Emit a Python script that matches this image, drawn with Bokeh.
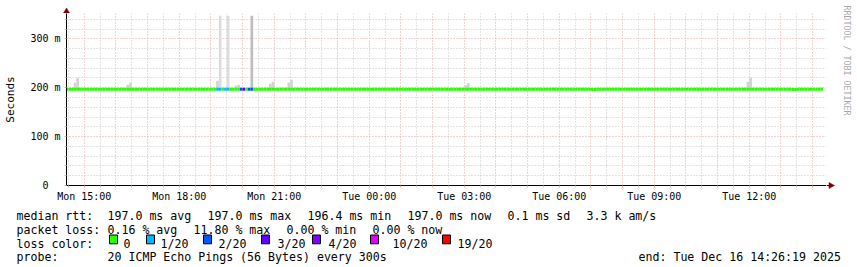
import math
from datetime import datetime, timedelta
from bokeh.plotting import figure
from bokeh.models import Range1d, FixedTicker, CustomJSTickFormatter
from bokeh.layouts import column, row
from bokeh.embed import file_html
from bokeh.resources import INLINE
from bokeh.core.properties import value

# ---------------- data ----------------
graph_start = "2025-12-15 14:26:19"
graph_end = "2025-12-16 14:26:19"
first_bin_end = "2025-12-15 14:30"
last_bin_end = "2025-12-16 14:20"
step_minutes = 5

median_base_ms = 197.0
median_times = ["2025-12-16 07:05", "2025-12-16 07:10", "2025-12-16 13:25", "2025-12-16 13:30"]
median_values_ms = [196.4, 196.4, 196.5, 196.5]

loss_times = ["2025-12-15 19:15", "2025-12-15 19:20", "2025-12-15 19:30", "2025-12-15 19:35",
              "2025-12-15 20:00", "2025-12-15 20:05", "2025-12-15 20:15", "2025-12-15 20:20"]
loss_counts = [1, 1, 1, 1, 2, 3, 2, 2]

smoke_times = ["2025-12-15 14:45", "2025-12-15 14:50", "2025-12-15 16:25", "2025-12-15 16:30",
               "2025-12-15 19:15", "2025-12-15 19:50", "2025-12-15 19:55", "2025-12-15 20:55",
               "2025-12-15 21:00", "2025-12-15 21:30", "2025-12-15 21:35", "2025-12-16 03:05",
               "2025-12-16 03:10", "2025-12-16 12:00", "2025-12-16 12:05"]
smoke_top_ms = [210, 220, 206, 210, 214, 204, 206, 208, 212, 210, 216, 205, 209, 212, 220]

spike_times = ["2025-12-15 19:20", "2025-12-15 19:35", "2025-12-15 20:20"]
spike_top_ms = [347, 347, 347]
spike_pings = [1, 1, 3]

loss_levels = [0, 1, 2, 3, 4, 10, 19]
loss_labels = ["0", "1/20", "2/20", "3/20", "4/20", "10/20", "19/20"]
loss_colors = ["#26ff00", "#00b8ff", "#0059ff", "#5e00ff", "#7e00ff", "#dd00ff", "#ff0000"]

y_major_ms = [0, 100, 200, 300]
y_minor_ms = [20, 40, 60, 80, 120, 140, 160, 180, 220, 240, 260, 280, 320, 340]

stats_rtt = ["median rtt:", "197.0 ms avg", "197.0 ms max", "196.4 ms min", "197.0 ms now",
             "0.1 ms sd", "3.3 k am/s"]
stats_loss = ["packet loss:", "0.16 % avg", "11.80 % max", "0.00 % min", "0.00 % now"]
probe_text = ["probe:", "20 ICMP Echo Pings (56 Bytes) every 300s"]
end_text = "end: Tue Dec 16 14:26:19 2025"
watermark = "RRDTOOL / TOBI OETIKER"

# ---------------- helpers ----------------
FMT = "%Y-%m-%d %H:%M"
EPOCH = datetime(1970, 1, 1)


def ts(s):
    return datetime.strptime(s, FMT)


def ms(dt):
    return (dt - EPOCH).total_seconds() * 1000.0


def loss_color(c):
    col = loss_colors[0]
    for lvl, cc in zip(loss_levels, loss_colors):
        if c >= lvl:
            col = cc
    return col


t0 = datetime.strptime(graph_start, "%Y-%m-%d %H:%M:%S")
t1 = datetime.strptime(graph_end, "%Y-%m-%d %H:%M:%S")
step = timedelta(minutes=step_minutes)

bin_ends = []
t = ts(first_bin_end)
while t <= ts(last_bin_end):
    bin_ends.append(t)
    t += step

med_map = dict(zip(median_times, median_values_ms))
loss_map = dict(zip(loss_times, loss_counts))

m_left, m_right, m_val, m_col = [], [], [], []
for t in bin_ends:
    k = t.strftime(FMT)
    m_left.append(t - step)
    m_right.append(t)
    m_val.append(med_map.get(k, median_base_ms) / 1000.0)
    m_col.append(loss_color(loss_map.get(k, 0)))


def med_at(k):
    return med_map.get(k, median_base_ms) / 1000.0


GRID_MAJOR = "#e8a4a4"
GRID_MINOR = "#c8c8c8"
FONT = "DejaVu Sans Mono"
ARROW = "#800000"


def strip(w, h):
    f = figure(width=w, height=h, x_range=Range1d(0, w), y_range=Range1d(h, 0),
               min_border=0, toolbar_location=None, output_backend="svg",
               outline_line_color=None, x_axis_location=None, y_axis_location=None,
               background_fill_color="white", border_fill_color="white")
    f.grid.visible = False
    return f


# ---------------- main graph ----------------
p = figure(width=826, height=192, x_axis_type="datetime",
           x_range=Range1d(ms(t0), ms(t1)), y_range=Range1d(0, 0.3517),
           min_border_left=66, min_border_right=0, min_border_top=0, min_border_bottom=20,
           toolbar_location=None, output_backend="svg", outline_line_color=None,
           background_fill_color="white", border_fill_color="white")

hours = []
h = datetime(t0.year, t0.month, t0.day, t0.hour) + timedelta(hours=1)
while h <= t1:
    hours.append(h)
    h += timedelta(hours=1)
halfs = [hh - timedelta(minutes=30) for hh in hours]
halfs = [x for x in halfs if t0 <= x <= t1]

p.xaxis.ticker = FixedTicker(ticks=[ms(x) for x in hours], minor_ticks=[ms(x) for x in halfs])
p.xaxis.formatter = CustomJSTickFormatter(code="""
const d = new Date(tick);
const h = d.getUTCHours();
if (h % 3 !== 0) return "";
const days = ["Sun","Mon","Tue","Wed","Thu","Fri","Sat"];
return days[d.getUTCDay()] + " " + String(h).padStart(2, "0") + ":00";
""")
p.yaxis.ticker = FixedTicker(ticks=[v / 1000 for v in y_major_ms], minor_ticks=[v / 1000 for v in y_minor_ms])
p.yaxis.formatter = CustomJSTickFormatter(code="""
if (Math.abs(tick) < 1e-9) return "0\\u00a0\\u00a0";
return Math.round(tick * 1000) + " m";
""")

for g in (p.xgrid, p.ygrid):
    g.grid_line_color = GRID_MAJOR
    g.grid_line_dash = "1 2"
    g.grid_line_width = 1
    g.minor_grid_line_color = GRID_MINOR
    g.minor_grid_line_dash = "1 2"
    g.minor_grid_line_width = 1

for ax in (p.xaxis, p.yaxis):
    ax.axis_line_color = "#000000"
    ax.axis_line_width = 1
    ax.major_tick_in = 0
    ax.major_tick_out = 2
    ax.minor_tick_in = 0
    ax.minor_tick_out = 2
    ax.major_tick_line_color = GRID_MAJOR
    ax.minor_tick_line_color = GRID_MINOR
    ax.major_label_text_font = FONT
    ax.major_label_text_font_size = "10px"
    ax.major_label_text_color = "#000000"
    ax.major_label_standoff = 3

p.yaxis.major_label_standoff = 4
p.yaxis.axis_label = "Seconds"
p.yaxis.axis_label_text_font = FONT
p.yaxis.axis_label_text_font_size = "11px"
p.yaxis.axis_label_text_font_style = "normal"
p.yaxis.axis_label_text_color = "#000000"
p.yaxis.axis_label_standoff = 10

# smoke: outlier pings
sp_col = ["#dcdcdc" if n == 1 else "#bdbdbd" for n in spike_pings]
p.quad(left=[ts(k) - step for k in spike_times], right=[ts(k) for k in spike_times],
       bottom=[med_at(k) for k in spike_times], top=[v / 1000 for v in spike_top_ms],
       fill_color=sp_col, line_color=None)
# smoke: bulk of pings
p.quad(left=[ts(k) - step for k in smoke_times], right=[ts(k) for k in smoke_times],
       bottom=[med_at(k) for k in smoke_times], top=[v / 1000 for v in smoke_top_ms],
       fill_color="#d2d2d2", line_color=None)

# median rtt coloured by loss
p.segment(x0=m_left, y0=m_val, x1=m_right, y1=m_val, line_color=m_col, line_width=3)

# ---------------- strip above the graph (y-axis arrow) ----------------
top = strip(826, 13)
top.segment(x0=[66], y0=[13], x1=[66], y1=[10], line_color="#000000", line_width=1)
top.patch(x=[63, 69, 66], y=[12.5, 12.5, 7.5], fill_color=ARROW, line_color=ARROW, line_width=0.5)

# ---------------- strip right of the graph (x-axis arrow, watermark) ----------------
wm = strip(31, 205)
wm.segment(x0=[0], y0=[185], x1=[4], y1=[185], line_color="#000000", line_width=1)
wm.patch(x=[2.5, 2.5, 8], y=[182, 188, 185], fill_color=ARROW, line_color=ARROW, line_width=0.5)
wm.text(x=[20.5], y=[5], text=[watermark], angle=-math.pi / 2,
        text_font=value(FONT), text_font_size="8.3px", text_color="#aaaaaa",
        text_align="left", text_baseline="middle")

# ---------------- legend block ----------------
leg = strip(857, 62)

row1_x = [16, 107, 207, 307, 407, 507, 586]
row2_x = [16, 107, 193, 286, 372]
row4_x = [16, 107]
base = [10.2, 24.1, 38.0, 51.9]

tx, ty, tt = [], [], []
for x, s in zip(row1_x, stats_rtt):
    tx.append(x); ty.append(base[0]); tt.append(s)
for x, s in zip(row2_x, stats_loss):
    tx.append(x); ty.append(base[1]); tt.append(s)
tx.append(16); ty.append(base[2]); tt.append("loss color:")
box_x = [109, 146, 203, 261, 312, 370, 442]
lab_x = [123, 160, 218, 277, 328, 392, 457]
for x, s in zip(lab_x, loss_labels):
    tx.append(x); ty.append(base[2]); tt.append(s)
for x, s in zip(row4_x, probe_text):
    tx.append(x); ty.append(base[3]); tt.append(s)
tx.append(638); ty.append(base[3]); tt.append(end_text)

leg.text(x=tx, y=ty, text=tt, text_font=value(FONT), text_font_size="11.6px",
         text_color="#000000", text_align="left", text_baseline="alphabetic")
leg.quad(left=box_x, right=[b + 8 for b in box_x], top=[29.5] * len(box_x), bottom=[38.3] * len(box_x),
         fill_color=loss_colors, line_color="#000000", line_width=1)

layout = column(row(column(top, column(p)), wm), leg)
open("out.html", "w").write(file_html(layout, INLINE))
